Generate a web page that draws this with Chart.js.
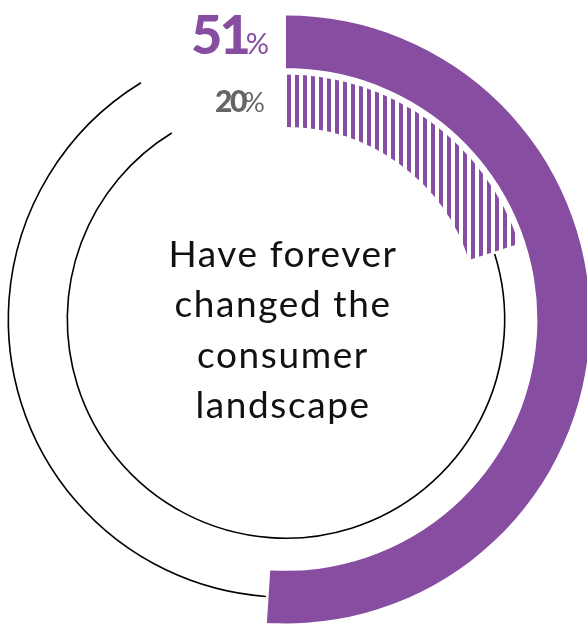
<!DOCTYPE html>
<html>
<head>
<meta charset="utf-8">
<script src="https://cdn.jsdelivr.net/npm/chart.js@4"></script>
<style>
  html, body { margin: 0; padding: 0; background: #fff; overflow: hidden; }
  #wrap { position: relative; width: 587px; height: 627px; }
</style>
</head>
<body>
<div id="wrap"><canvas id="rings"></canvas></div>
<script>
// share of respondents
const outerValues = [51, 49];
const innerValues = [20, 80];
const outerLabel = ['51', '%'];
const innerLabel = ['20', '%'];
const centerLines = ['Have forever', 'changed the', 'consumer', 'landscape'];

const PURPLE = '#874da0';
const GREY = '#666666';

// vertical stripes for the inner ring
function stripes(color) {
  const tile = document.createElement('canvas');
  tile.width = 8;
  tile.height = 8;
  const t = tile.getContext('2d');
  t.fillStyle = color;
  t.fillRect(0, 0, 3, 8);
  t.fillRect(7, 0, 1, 8);
  return t.createPattern(tile, 'repeat');
}

// thin outline over the unfilled part of each ring, open near the top
const openRing = {
  id: 'openRing',
  afterDatasetsDraw(chart) {
    const ctx = chart.ctx;
    const gap = 31.5 * Math.PI / 180;
    [0, 2].forEach(i => {
      const arc = chart.getDatasetMeta(i).data[1];
      const r = (arc.innerRadius + arc.outerRadius) / 2;
      ctx.save();
      ctx.beginPath();
      ctx.arc(arc.x, arc.y, r, arc.startAngle + 0.01, arc.endAngle - gap);
      ctx.strokeStyle = '#000';
      ctx.lineWidth = 1.6;
      ctx.stroke();
      ctx.restore();
    });
  }
};

// percentage tags and the centre caption
const captions = {
  id: 'captions',
  afterDraw(chart) {
    const ctx = chart.ctx;
    const outer = chart.getDatasetMeta(0).data[0];
    const inner = chart.getDatasetMeta(2).data[0];
    ctx.save();
    ctx.textAlign = 'right';
    ctx.textBaseline = 'alphabetic';

    function tag(parts, x, y, bigFont, smallFont, color, squeeze) {
      ctx.fillStyle = color;
      ctx.letterSpacing = '0px';
      ctx.font = smallFont;
      ctx.fillText(parts[1], x, y);
      const w = ctx.measureText(parts[1]).width;
      ctx.font = bigFont;
      ctx.letterSpacing = squeeze + 'px';
      ctx.fillText(parts[0], x - w - 1 - squeeze, y);
    }

    tag(outerLabel, outer.x - 17, outer.y - outer.outerRadius + 38,
      '900 54px Lato', '400 29px Lato', PURPLE, -3);
    tag(innerLabel, inner.x - 21, inner.y - inner.outerRadius + 37.5,
      '900 30px Lato', '400 27px Lato', GREY, -2.5);

    ctx.textAlign = 'center';
    ctx.fillStyle = '#111';
    ctx.font = '400 37px Lato';
    ctx.letterSpacing = '1.6px';
    centerLines.forEach((line, k) => {
      ctx.fillText(line, outer.x - 3, outer.y - 52.5 + k * 50.3);
    });
    ctx.restore();
  }
};

new Chart(document.getElementById('rings'), {
  type: 'doughnut',
  data: {
    datasets: [
      { data: outerValues, backgroundColor: [PURPLE, 'rgba(0,0,0,0)'], weight: 58 },
      { data: [1], backgroundColor: ['rgba(0,0,0,0)'], weight: 7 },
      { data: innerValues, backgroundColor: [stripes(PURPLE), 'rgba(0,0,0,0)'], weight: 58 }
    ]
  },
  options: {
    responsive: true,
    maintainAspectRatio: false,
    animation: false,
    events: [],
    radius: 304,
    cutout: 181,
    borderWidth: 0,
    hoverOffset: 0,
    layout: { padding: { left: 0, right: 15, top: 12, bottom: 0 } },
    plugins: { legend: { display: false }, tooltip: { enabled: false } }
  },
  plugins: [openRing, captions]
});
</script>
</body>
</html>
